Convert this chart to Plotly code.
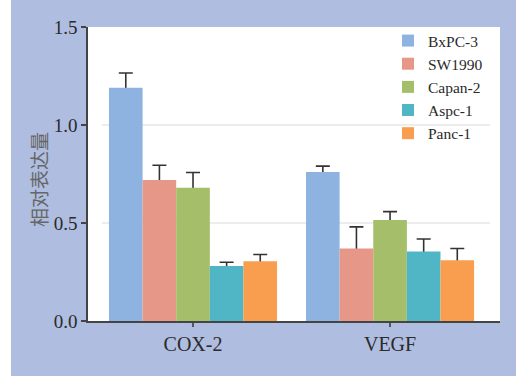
import plotly.graph_objects as go

categories = ["COX-2", "VEGF"]
series_names = ["BxPC-3", "SW1990", "Capan-2", "Aspc-1", "Panc-1"]
series_values = {
    "BxPC-3": [1.19, 0.76],
    "SW1990": [0.72, 0.37],
    "Capan-2": [0.68, 0.515],
    "Aspc-1": [0.28, 0.355],
    "Panc-1": [0.305, 0.31],
}
series_errors = {
    "BxPC-3": [0.075, 0.03],
    "SW1990": [0.075, 0.11],
    "Capan-2": [0.078, 0.043],
    "Aspc-1": [0.02, 0.063],
    "Panc-1": [0.034, 0.06],
}
series_colors = {
    "BxPC-3": "#8EB3E0",
    "SW1990": "#E69787",
    "Capan-2": "#A4BE6A",
    "Aspc-1": "#50B5C5",
    "Panc-1": "#F89E4E",
}
y_ticks = [0, 0.5, 1.0, 1.5]
grid_vals = [0.5, 1.0]

W, H = 516, 376
L, R, T, B = 88, 16, 27, 55
pw, ph = W - L - R, H - T - B
X_RANGE = [-0.533, 1.558]
Y_RANGE = [0, 1.5]
BASE_HIDE = 0.015  # pushes the error bar base inside the bar, hidden by it

SERIF = "'Liberation Serif', 'Times New Roman', 'DejaVu Serif', serif"

fig = go.Figure()

# error bar carriers on the base subplot
for i, name in enumerate(series_names):
    fig.add_trace(go.Bar(
        x=categories, y=series_values[name], name=name,
        offsetgroup=str(i), showlegend=False, hoverinfo="skip",
        marker=dict(color="rgba(0,0,0,0)", line=dict(width=0)),
        error_y=dict(type="data", array=series_errors[name],
                     arrayminus=[BASE_HIDE] * len(categories), symmetric=False,
                     color="#333333", thickness=1.6, width=7),
        xaxis="x", yaxis="y",
    ))
# real bars on an overlaying subplot so they cover the error bar bases
for i, name in enumerate(series_names):
    fig.add_trace(go.Bar(
        x=categories, y=series_values[name], name=name,
        offsetgroup=str(i),
        marker=dict(color=series_colors[name], line=dict(width=0)),
        xaxis="x2", yaxis="y2",
    ))

shapes = [
    dict(type="rect", xref="paper", yref="paper",
         x0=-L / pw - 0.1, x1=(11 - L) / pw, y0=-B / ph - 0.1, y1=(H - T) / ph + 0.5,
         fillcolor="white", line=dict(width=0), layer="below"),
    dict(type="rect", xref="paper", yref="paper",
         x0=-L / pw - 0.1, x1=(W - L) / pw + 0.1, y0=(H - T - 8) / ph, y1=(H - T) / ph + 0.5,
         fillcolor="white", line=dict(width=0), layer="below"),
]
for g in grid_vals:
    shapes.append(dict(type="line", xref="paper", yref="y",
                       x0=(102 - L) / pw, x1=(490 - L) / pw, y0=g, y1=g,
                       line=dict(color="#DCDCDC", width=1.2), layer="below"))

fig.update_layout(
    width=W, height=H,
    margin=dict(l=L, r=R, t=T, b=B, pad=0),
    paper_bgcolor="#AFBDE0",
    plot_bgcolor="white",
    barmode="group",
    bargap=0.147,
    bargroupgap=0,
    font=dict(family=SERIF, color="#2a2a2a"),
    showlegend=True,
    legend=dict(
        x=(388 - L) / pw, xanchor="left",
        y=1 - (24 - T) / ph, yanchor="top",
        bgcolor="rgba(0,0,0,0)",
        font=dict(family=SERIF, size=15.5, color="#2a2a2a"),
        tracegroupgap=0,
    ),
    xaxis=dict(
        range=X_RANGE,
        showline=True, linecolor="#444444", linewidth=1.5,
        ticks="outside", ticklen=4, tickwidth=1.5, tickcolor="#555555",
        showgrid=False, zeroline=False,
        tickfont=dict(family=SERIF, size=20, color="#2a2a2a"),
    ),
    yaxis=dict(
        range=Y_RANGE,
        tickvals=y_ticks, tickformat=".1f",
        showline=True, linecolor="#444444", linewidth=1.5,
        ticks="outside", ticklen=5, tickwidth=1.5, tickcolor="#444444",
        showgrid=False, zeroline=False,
        tickfont=dict(family=SERIF, size=19, color="#2a2a2a"),
    ),
    xaxis2=dict(range=X_RANGE, overlaying="x", visible=False),
    yaxis2=dict(range=Y_RANGE, overlaying="y", visible=False),
    shapes=shapes,
    annotations=[dict(
        text="相对表达量", textangle=-90, showarrow=False,
        xref="paper", yref="paper",
        x=(38 - L) / pw, y=(H - B - 180) / ph,
        xanchor="center", yanchor="middle",
        font=dict(family="Noto Sans CJK SC", size=19, color="#666666"),
    )],
)

fig.write_html("out.html")
